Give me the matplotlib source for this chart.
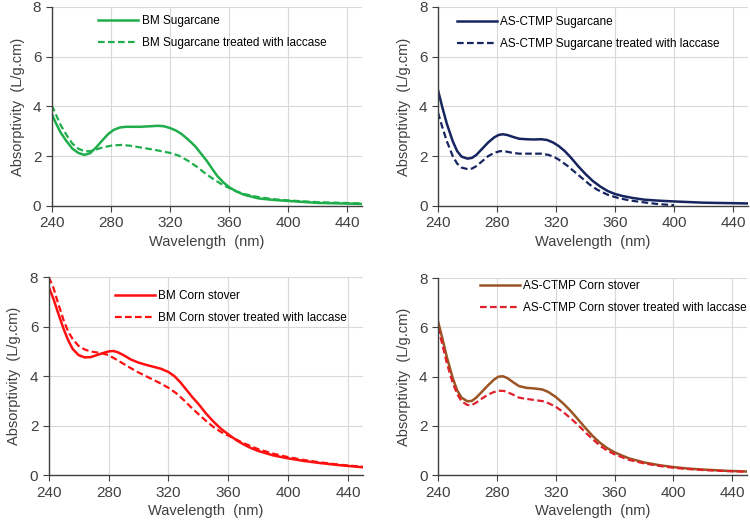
import matplotlib.pyplot as plt

plt.rcParams['font.family'] = ['Liberation Sans', 'DejaVu Sans']

# --- data (wavelength nm, absorptivity L/g.cm) ---
bm_sc_wl = [240, 243, 246, 250, 254, 258, 262, 266, 270, 274, 278, 282, 286, 290, 300, 312, 316, 320, 324, 328,
            332, 337, 341, 345, 349, 352, 356, 360, 365, 370, 380, 390, 400, 420, 450]
bm_sc = [3.7, 3.3, 2.95, 2.6, 2.3, 2.13, 2.05, 2.12, 2.35, 2.62, 2.88, 3.06, 3.15, 3.18, 3.18, 3.22, 3.2, 3.13, 3.03, 2.88,
         2.68, 2.4, 2.1, 1.8, 1.45, 1.2, 0.95, 0.75, 0.58, 0.45, 0.3, 0.24, 0.2, 0.12, 0.08]
bm_sc_lac_wl = [240, 243, 246, 250, 254, 258, 262, 266, 270, 275, 281, 287, 293, 300, 310, 320, 326, 332, 338, 344,
                350, 355, 360, 365, 370, 380, 390, 400, 420, 450]
bm_sc_lac = [4.05, 3.65, 3.25, 2.85, 2.5, 2.3, 2.2, 2.2, 2.27, 2.36, 2.43, 2.45, 2.42, 2.35, 2.25, 2.13, 2.02, 1.82, 1.58, 1.3,
             1.05, 0.87, 0.72, 0.58, 0.48, 0.35, 0.27, 0.22, 0.15, 0.1]

as_sc_wl = [240, 243, 246, 250, 253, 256, 260, 263, 266, 270, 274, 278, 281, 284, 287, 291, 295, 300, 305, 310, 314,
            318, 322, 326, 330, 335, 340, 345, 350, 355, 360, 365, 372, 380, 390, 400, 420, 450]
as_sc = [4.65, 3.95, 3.3, 2.6, 2.2, 1.98, 1.9, 1.93, 2.05, 2.3, 2.55, 2.75, 2.85, 2.88, 2.85, 2.77, 2.7, 2.68, 2.67, 2.68, 2.65,
         2.55, 2.4, 2.2, 1.95, 1.6, 1.28, 1.0, 0.78, 0.6, 0.48, 0.4, 0.32, 0.25, 0.21, 0.18, 0.13, 0.1]
as_sc_lac_wl = [240, 243, 246, 250, 253, 256, 260, 263, 266, 270, 274, 278, 282, 285, 290, 295, 300, 310, 315, 319,
                323, 328, 333, 338, 343, 348, 355, 362, 370, 380, 390, 400]
as_sc_lac = [3.75, 3.15, 2.6, 2.0, 1.7, 1.54, 1.48, 1.5, 1.6, 1.8, 2.0, 2.13, 2.2, 2.2, 2.14, 2.1, 2.1, 2.1, 2.05, 1.96,
             1.82, 1.6, 1.35, 1.1, 0.85, 0.65, 0.45, 0.32, 0.22, 0.14, 0.07, 0.03]

bm_cs_wl = [240, 243, 246, 250, 253, 256, 260, 264, 268, 272, 276, 280, 283, 286, 290, 295, 300, 305, 310, 315, 320,
            324, 328, 332, 336, 340, 345, 350, 355, 360, 365, 370, 375, 380, 390, 400, 410, 420, 435, 450]
bm_cs = [7.6, 7.15, 6.6, 5.9, 5.45, 5.1, 4.85, 4.76, 4.77, 4.85, 4.93, 5.0, 5.02, 4.97, 4.85, 4.67, 4.55, 4.46, 4.38, 4.3, 4.17,
         4.0, 3.75, 3.45, 3.15, 2.88, 2.5, 2.17, 1.88, 1.65, 1.43, 1.25, 1.1, 0.98, 0.8, 0.68, 0.58, 0.5, 0.4, 0.32]
bm_cs_lac_wl = [240, 243, 246, 250, 253, 256, 260, 264, 268, 272, 276, 280, 285, 290, 295, 300, 305, 310, 315, 320,
                325, 330, 335, 340, 345, 350, 355, 360, 365, 370, 380, 390, 400, 410, 420, 435, 450]
bm_cs_lac = [8.0, 7.6, 7.0, 6.25, 5.8, 5.5, 5.22, 5.08, 5.0, 4.96, 4.92, 4.85, 4.68, 4.5, 4.32, 4.15, 4.0, 3.85, 3.7, 3.53,
             3.32, 3.05, 2.75, 2.47, 2.2, 1.95, 1.75, 1.6, 1.45, 1.3, 1.05, 0.87, 0.73, 0.62, 0.53, 0.42, 0.34]

as_cs_wl = [240, 243, 246, 250, 253, 256, 260, 263, 266, 270, 274, 278, 281, 284, 287, 291, 295, 300, 306, 311, 315,
            320, 325, 330, 335, 340, 345, 350, 355, 360, 365, 370, 380, 390, 400, 410, 420, 435, 450]
as_cs = [6.25, 5.55, 4.8, 3.95, 3.45, 3.15, 3.0, 3.02, 3.15, 3.4, 3.65, 3.88, 4.0, 4.02, 3.95, 3.78, 3.62, 3.55, 3.52, 3.48, 3.38,
         3.18, 2.92, 2.62, 2.28, 1.93, 1.6, 1.32, 1.1, 0.93, 0.8, 0.68, 0.52, 0.41, 0.33, 0.27, 0.23, 0.18, 0.15]
as_cs_lac_wl = [240, 243, 246, 250, 253, 256, 260, 263, 266, 270, 274, 278, 282, 285, 290, 295, 300, 306, 312, 316,
                320, 325, 330, 335, 340, 345, 350, 355, 360, 365, 370, 380, 390, 400, 410, 420, 435, 450]
as_cs_lac = [6.0, 5.3, 4.55, 3.75, 3.3, 3.0, 2.85, 2.85, 2.95, 3.12, 3.27, 3.38, 3.43, 3.42, 3.3, 3.15, 3.1, 3.05, 3.0, 2.9,
             2.78, 2.57, 2.32, 2.05, 1.75, 1.47, 1.2, 1.0, 0.85, 0.73, 0.62, 0.48, 0.38, 0.3, 0.25, 0.21, 0.17, 0.14]

x_ticks = [240, 280, 320, 360, 400, 440]
y_ticks = [0, 2, 4, 6, 8]

panels = [
    # (axes rect, solid, dashed, colours, labels, legend anchor)
    ([0.069, 0.610, 0.414, 0.377], (bm_sc_wl, bm_sc), (bm_sc_lac_wl, bm_sc_lac),
     ('#1fae4b', '#1fae4b'), ('BM Sugarcane', 'BM Sugarcane treated with laccase'), (0.15, 0.958)),
    ([0.584, 0.610, 0.413, 0.377], (as_sc_wl, as_sc), (as_sc_lac_wl, as_sc_lac),
     ('#16255f', '#16255f'), ('AS-CTMP Sugarcane', 'AS-CTMP Sugarcane treated with laccase'), (0.06, 0.952)),
    ([0.065, 0.100, 0.419, 0.375], (bm_cs_wl, bm_cs), (bm_cs_lac_wl, bm_cs_lac),
     ('#ff1010', '#ff1010'), ('BM Corn stover', 'BM Corn stover treated with laccase'), (0.21, 0.935)),
    ([0.584, 0.100, 0.412, 0.373], (as_cs_wl, as_cs), (as_cs_lac_wl, as_cs_lac),
     ('#9b5424', '#e0202a'), ('AS-CTMP Corn stover', 'AS-CTMP Corn stover treated with laccase'), (0.135, 0.99)),
]

fig = plt.figure(figsize=(7.5, 5.28), dpi=100)

for rect, solid, dashed, colors, labels, anchor in panels:
    ax = fig.add_axes(rect)
    ax.plot(solid[0], solid[1], color=colors[0], lw=1.8, label=labels[0])
    ax.plot(dashed[0], dashed[1], color=colors[1], lw=1.6, ls=(0, (3, 1.5)), label=labels[1])
    ax.set_xlim(240, 450)
    ax.set_ylim(0, 8)
    ax.set_xticks(x_ticks)
    ax.set_yticks(y_ticks)
    ax.grid(True, color='#d9d9d9', lw=0.8)
    ax.set_axisbelow(True)
    for s in ('top', 'right'):
        ax.spines[s].set_visible(False)
    for s in ('left', 'bottom'):
        ax.spines[s].set_color('#404040')
        ax.spines[s].set_linewidth(1.0)
    ax.tick_params(colors='#404040', labelsize=11, length=4, width=0.8)
    ax.set_xlabel('Wavelength  (nm)', fontsize=10.5, color='#404040', labelpad=3)
    ax.set_ylabel('Absorptivity  (L/g.cm)', fontsize=10.5, color='#404040', labelpad=6)
    ax.legend(loc='upper left', bbox_to_anchor=anchor, frameon=False, fontsize=8.5,
              handlelength=3.4, handletextpad=0.3, labelspacing=0.85, borderpad=0, borderaxespad=0)

fig.savefig('out.png', dpi=100)
